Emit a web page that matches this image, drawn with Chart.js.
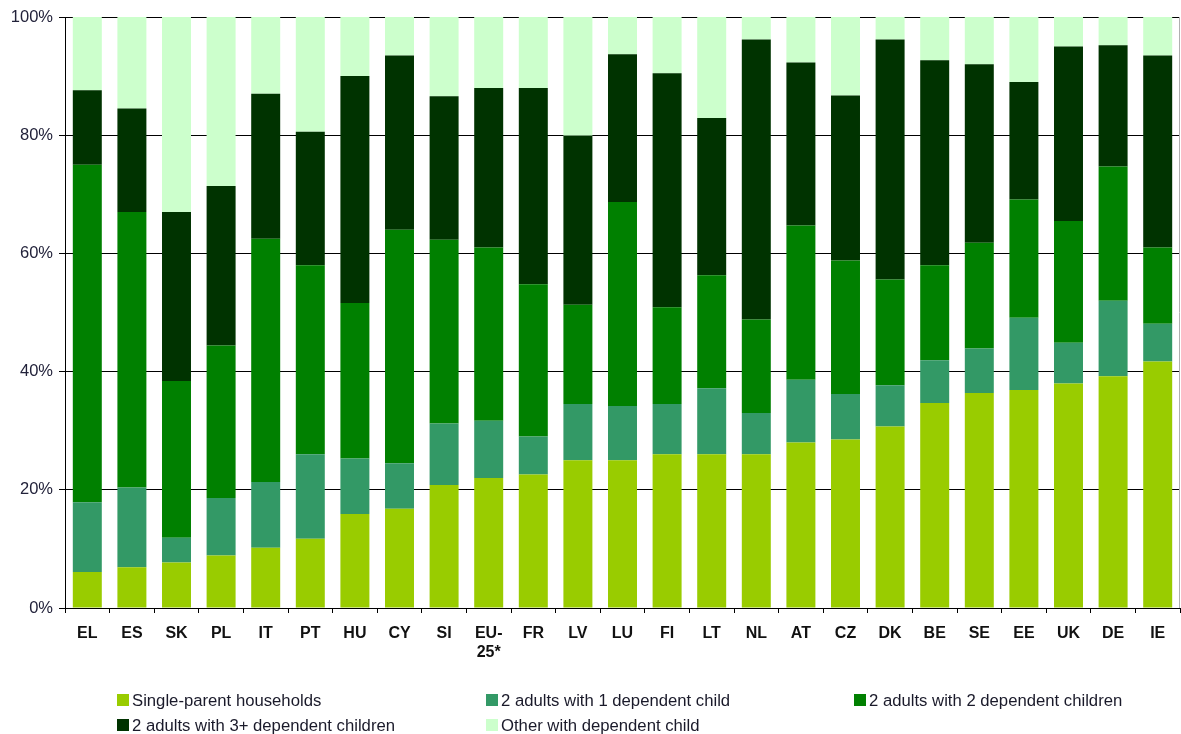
<!DOCTYPE html>
<html>
<head>
<meta charset="utf-8">
<script src="https://cdn.jsdelivr.net/npm/chart.js@4.4.0/dist/chart.umd.min.js"></script>
<style>
  html, body { margin: 0; padding: 0; background: #fff; }
  #wrap { width: 1181px; height: 734px; position: relative; }
</style>
</head>
<body>
<div id="wrap"><canvas id="myChart" width="1181" height="734"></canvas></div>
<script>
// categories and shares (%) per household type
const countries = ["EL", "ES", "SK", "PL", "IT", "PT", "HU", "CY", "SI", ["EU-", "25*"], "FR", "LV", "LU", "FI", "LT", "NL", "AT", "CZ", "DK", "BE", "SE", "EE", "UK", "DE", "IE"];
const singleParent = [6.1, 6.9, 7.7, 8.9, 10.2, 11.7, 15.9, 16.8, 20.8, 22.0, 22.6, 25.0, 25.0, 26.0, 26.0, 26.0, 28.0, 28.5, 30.7, 34.7, 36.4, 36.9, 38.0, 39.2, 41.7];
const adults1Child = [11.8, 13.5, 4.2, 9.7, 11.1, 14.3, 9.4, 7.7, 10.4, 9.7, 6.4, 9.5, 9.2, 8.5, 11.2, 7.0, 10.6, 7.7, 7.0, 7.2, 7.5, 12.2, 6.9, 12.8, 6.4];
const adults2Children = [57.1, 46.6, 26.5, 25.8, 41.2, 32.0, 26.3, 39.5, 31.1, 29.3, 25.8, 16.8, 34.5, 16.4, 19.1, 15.8, 26.1, 22.6, 17.9, 16.1, 17.9, 20.0, 20.6, 22.7, 12.9];
const adults3Children = [12.6, 17.5, 28.6, 27.0, 24.5, 22.6, 38.4, 29.5, 24.3, 27.0, 33.2, 28.6, 25.0, 39.6, 26.6, 47.4, 27.6, 27.9, 40.6, 34.7, 30.2, 19.9, 29.5, 20.5, 32.5];
const otherWithChild = [12.4, 15.5, 33.0, 28.6, 13.0, 19.4, 10.0, 6.5, 13.4, 12.0, 12.0, 20.1, 6.3, 9.5, 17.1, 3.8, 7.7, 13.3, 3.8, 7.3, 8.0, 11.0, 5.0, 4.8, 6.5];
const yTicks = [0, 20, 40, 60, 80, 100];

const seriesNames = ["Single-parent households", "2 adults with 1 dependent child", "2 adults with 2 dependent children", "2 adults with 3+ dependent children", "Other with dependent child"];
const seriesColors = ["#99CC00", "#339966", "#008000", "#003300", "#CCFFCC"];
const seriesData = [singleParent, adults1Child, adults2Children, adults3Children, otherWithChild];

const FONT = 'Arial, "Liberation Sans", sans-serif';

// legend in a 3-column grid below the axis, plus the thin frame line on the right
const gridLegend = {
  id: "gridLegend",
  afterDraw(chart) {
    const ctx = chart.ctx;
    const area = chart.chartArea;
    ctx.save();
    ctx.strokeStyle = "#b0b0b0";
    ctx.lineWidth = 1;
    ctx.beginPath();
    ctx.moveTo(Math.round(area.right) - 0.5, area.top);
    ctx.lineTo(Math.round(area.right) - 0.5, area.bottom);
    ctx.stroke();

    const cols = [117, 486, 854];
    const rows = [700, 725];
    ctx.font = "16.7px " + FONT;
    ctx.textBaseline = "middle";
    chart.data.datasets.forEach(function (ds, i) {
      const x = cols[i % 3];
      const y = rows[Math.floor(i / 3)];
      ctx.fillStyle = ds.backgroundColor;
      ctx.fillRect(x, y - 6, 12, 12);
      ctx.fillStyle = "#1a1a2a";
      ctx.fillText(ds.label, x + 15, y + 1);
    });
    ctx.restore();
  },
};

const ctx = document.getElementById("myChart").getContext("2d");
new Chart(ctx, {
  type: "bar",
  data: {
    labels: countries,
    datasets: seriesData.map(function (d, i) {
      return {
        label: seriesNames[i],
        data: d,
        backgroundColor: seriesColors[i],
        borderWidth: 0,
        barPercentage: 0.65,
        categoryPercentage: 1.0,
      };
    }),
  },
  options: {
    responsive: false,
    animation: false,
    layout: { padding: { top: 17, right: 1, bottom: 0, left: 0 } },
    plugins: {
      legend: { display: false },
      tooltip: { enabled: false },
    },
    scales: {
      x: {
        stacked: true,
        afterFit: function (scale) { scale.height = 126; },
        grid: {
          display: true,
          drawOnChartArea: false,
          drawTicks: true,
          tickLength: 5,
          color: "#000",
          offset: true,
        },
        border: { color: "#000", width: 1 },
        ticks: {
          color: "#111",
          font: { family: FONT, size: 16, weight: "bold" },
          padding: 11,
          maxRotation: 0,
          autoSkip: false,
        },
      },
      y: {
        stacked: true,
        min: 0,
        max: 100,
        afterFit: function (scale) { scale.width = 65; },
        afterBuildTicks: function (scale) {
          scale.ticks = yTicks.map(function (v) { return { value: v }; });
        },
        grid: {
          color: "#000",
          lineWidth: 1,
          tickLength: 6,
        },
        border: { color: "#000", width: 1 },
        ticks: {
          color: "#22223a",
          font: { family: FONT, size: 16.5 },
          padding: 6,
          callback: function (v) { return v + "%"; },
        },
      },
    },
  },
  plugins: [gridLegend],
});
</script>
</body>
</html>
